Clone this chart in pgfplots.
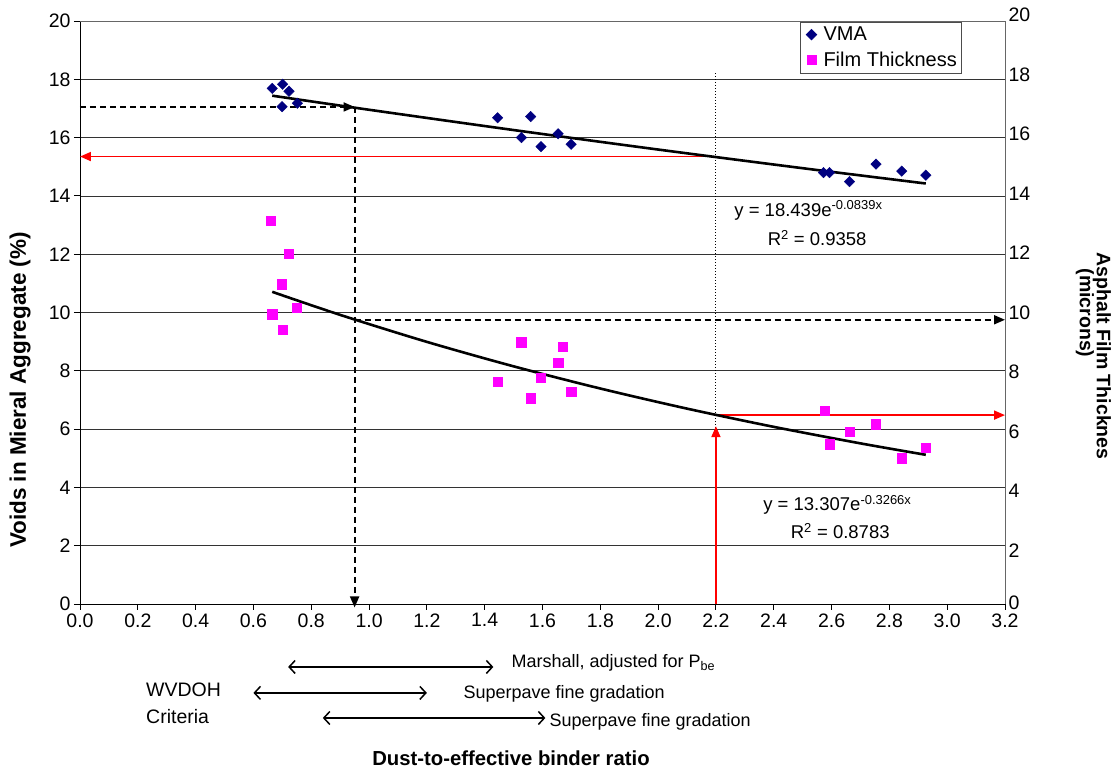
\documentclass[border=0pt]{standalone}
\usepackage{fontspec}
\setmainfont{Liberation Sans}
\usepackage{pgfplots}
\pgfplotsset{compat=1.18}
\usetikzlibrary{arrows.meta}
\definecolor{vmablue}{RGB}{0,0,128}
\definecolor{filmpink}{RGB}{255,0,255}
\definecolor{arrred}{RGB}{255,0,0}
\newcommand{\chartfont}{\fontsize{19.5}{23}\selectfont}
\newcommand{\notefont}{\fontsize{18}{21}\selectfont}
\begin{document}
\begin{tikzpicture}
\begin{axis}[
  at={(80pt,166pt)}, anchor=south west,
  width=925pt, height=583pt, scale only axis,
  xmin=0, xmax=3.2, ymin=0, ymax=20,
  xtick={0,0.2,0.4,0.6,0.8,1.0,1.2,1.4,1.6,1.8,2.0,2.2,2.4,2.6,2.8,3.0,3.2},
  ytick={0,2,4,6,8,10,12,14,16,18,20},
  xticklabel style={/pgf/number format/.cd,fixed,fixed zerofill,precision=1},
  /pgf/number format/assume math mode=true,
  tick label style={font=\chartfont, black},
  axis x line*=bottom, axis y line*=left,
  axis line style={-, black, line width=0.9pt},
  tick style={black, line width=0.9pt},
  tick align=outside, major tick length=6pt,
  ymajorgrids, grid style={black!80, line width=0.7pt},
  clip=false,
  legend style={at={(rel axis cs:0.7785,0.999)}, anchor=north west,
    draw=black!70, line width=0.8pt, fill=white, font=\fontsize{20}{24}\selectfont,
    inner xsep=3pt, inner ysep=3pt, row sep=6pt},
  legend cell align=left,
  legend image code/.code={\path[draw=none,fill=none] (0pt,-3pt) rectangle (18pt,3pt); \draw[mark repeat=2,mark phase=2,#1] plot coordinates {(0pt,0pt) (8pt,0pt) (18pt,0pt)};},
]
% plot frame (top and right)
\draw[black!60, line width=0.8pt] (rel axis cs:0,1) -- (rel axis cs:1,1) -- (rel axis cs:1,0);

\addplot[only marks, mark=square*, mark size=3.7pt, color=vmablue, mark options={rotate=45, fill=vmablue, draw=vmablue}] coordinates {
 (0.665,17.69) (0.701,17.83) (0.723,17.59) (0.699,17.06) (0.752,17.18)
 (1.445,16.68) (1.559,16.72) (1.527,16.00) (1.595,15.69) (1.654,16.13) (1.699,15.77)
 (2.572,14.80) (2.593,14.80) (2.662,14.49) (2.754,15.09) (2.843,14.85) (2.926,14.71)
};
\addlegendentry{VMA}
\addplot[only marks, mark=square*, mark size=4.6pt, color=filmpink, mark options={fill=filmpink, draw=filmpink}] coordinates {
 (0.661,13.15) (0.722,12.03) (0.698,10.97) (0.750,10.16) (0.665,9.94) (0.701,9.42)
 (1.526,8.98) (1.669,8.84) (1.654,8.28) (1.595,7.76) (1.445,7.63) (1.559,7.06) (1.699,7.28)
 (2.575,6.63) (2.753,6.17) (2.663,5.91) (2.594,5.48) (2.843,5.00) (2.926,5.36)
};
\addlegendentry{Film Thickness}

% annotation arrows
\draw[black, line width=1.8pt, dash pattern=on 6pt off 4pt, -{Triangle[length=11pt,width=9pt]}] (axis cs:0,17.05) -- (axis cs:0.95,17.05);
\draw[black, line width=1.8pt, dash pattern=on 6pt off 4pt, -{Triangle[length=11pt,width=9pt]}] (axis cs:0.95,17.05) -- (axis cs:0.95,-0.12);
\draw[black, line width=1.8pt, dash pattern=on 6pt off 4pt, -{Triangle[length=11pt,width=9pt]}] (axis cs:0.95,9.75) -- (axis cs:3.2,9.75);
\draw[black, line width=1pt, dotted] (axis cs:2.2,18.2) -- (axis cs:2.2,0);
\draw[arrred, line width=1.8pt, -{Triangle[length=11pt,width=9pt]}] (axis cs:2.2,15.35) -- (axis cs:0,15.35);
\draw[arrred, line width=1.8pt, -{Triangle[length=11pt,width=9pt]}] (axis cs:2.2,0) -- (axis cs:2.2,6.1);
\draw[arrred, line width=1.8pt, -{Triangle[length=11pt,width=9pt]}] (axis cs:2.2,6.48) -- (axis cs:3.2,6.48);

% trend lines
\addplot[black, line width=2.6pt, smooth, forget plot] coordinates {
 (0.665,17.438) (1.0,16.955) (1.5,16.259) (2.0,15.590) (2.5,14.950) (2.926,14.425)
};
\addplot[black, line width=2.6pt, smooth, forget plot] coordinates {
 (0.665,10.709) (0.9,9.918) (1.2,8.992) (1.5,8.153) (1.8,7.392) (2.1,6.702) (2.4,6.077) (2.7,5.510) (2.926,5.118)
};

% trend equations
\node[font=\fontsize{18.5}{22}\selectfont] at (axis cs:2.52,13.5) {y = 18.439e\textsuperscript{-0.0839x}};
\node[font=\fontsize{18.5}{22}\selectfont] at (axis cs:2.55,12.55) {R\textsuperscript{2} = 0.9358};
\node[font=\fontsize{18.5}{22}\selectfont] at (axis cs:2.62,3.40) {y = 13.307e\textsuperscript{-0.3266x}};
\node[font=\fontsize{18.5}{22}\selectfont] at (axis cs:2.63,2.50) {R\textsuperscript{2} = 0.8783};

% right axis labels
\node[font=\chartfont, anchor=west] at (axis cs:3.2,0.05) {0};
\node[font=\chartfont, anchor=west] at (axis cs:3.2,1.84) {2};
\node[font=\chartfont, anchor=west] at (axis cs:3.2,3.88) {4};
\node[font=\chartfont, anchor=west] at (axis cs:3.2,5.92) {6};
\node[font=\chartfont, anchor=west] at (axis cs:3.2,7.96) {8};
\node[font=\chartfont, anchor=west] at (axis cs:3.2,10.0) {10};
\node[font=\chartfont, anchor=west] at (axis cs:3.2,12.04) {12};
\node[font=\chartfont, anchor=west] at (axis cs:3.2,14.08) {14};
\node[font=\chartfont, anchor=west] at (axis cs:3.2,16.12) {16};
\node[font=\chartfont, anchor=west] at (axis cs:3.2,18.16) {18};
\node[font=\chartfont, anchor=west] at (axis cs:3.2,20.2) {20};

% criteria arrows below the axis
\draw[black, line width=1.5pt, {Straight Barb[length=6pt,width=13pt]}-{Straight Barb[length=6pt,width=13pt]}] (axis cs:0.72,-2.16) -- (axis cs:1.43,-2.16);
\draw[black, line width=1.5pt, {Straight Barb[length=6pt,width=13pt]}-{Straight Barb[length=6pt,width=13pt]}] (axis cs:0.60,-3.05) -- (axis cs:1.20,-3.05);
\draw[black, line width=1.5pt, {Straight Barb[length=6pt,width=13pt]}-{Straight Barb[length=6pt,width=13pt]}] (axis cs:0.84,-3.91) -- (axis cs:1.61,-3.91);
\end{axis}

% notes
\node[font=\notefont, anchor=west] at (508pt,107pt) {Marshall, adjusted for P\textsubscript{be}};
\node[font=\notefont, anchor=west] at (460pt,76pt) {Superpave fine gradation};
\node[font=\notefont, anchor=west] at (546pt,48pt) {Superpave fine gradation};
\node[font=\chartfont, anchor=west, inner sep=0pt] at (146pt,80pt) {WVDOH};
\node[font=\chartfont, anchor=west, inner sep=0pt] at (146pt,53pt) {Criteria};
\node[font=\fontsize{20.3}{24}\selectfont\bfseries] at (511pt,12pt) {Dust-to-effective binder ratio};

% axis titles
\node[font=\fontsize{22.5}{26}\selectfont\bfseries, rotate=90] at (20pt,380pt) {Voids in Mieral Aggregate (\%)};
\node[font=\chartfont\bfseries, rotate=-90] at (1102pt,414pt) {Asphalt Film Thicknes};
\node[font=\chartfont\bfseries, rotate=-90] at (1085pt,457pt) {(microns)};

\pgfresetboundingbox
\path[use as bounding box] (0,0) rectangle (1119pt,770pt);
\end{tikzpicture}
\end{document}
